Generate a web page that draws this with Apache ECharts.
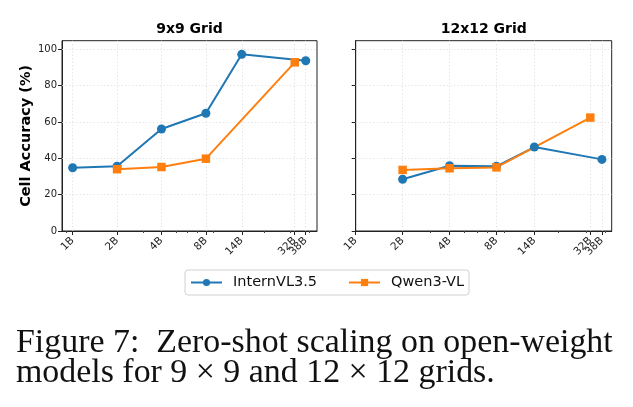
<!DOCTYPE html>
<html>
<head>
<meta charset="utf-8">
<script src="https://cdn.jsdelivr.net/npm/echarts@6/dist/echarts.min.js"></script>
<style>
  html, body { margin: 0; padding: 0; background: #fff; }
  #main { width: 633px; height: 407px; }
</style>
</head>
<body>
<div id="main"></div>
<script>
// tick positions on the log x axis and their labels
const tickSizes = [1, 2, 4, 8, 14, 32, 38];
const tickLabels = ['1B', '2B', '4B', '8B', '14B', '32B', '38B'];
const minorSizes = [0.9, 3, 5, 6, 7, 9, 20, 30, 40];
const yTicks = [0, 20, 40, 60, 80, 100];

// 9x9 grid
const intern9Sizes = [1, 2, 4, 8, 14, 38];
const intern9Acc = [34.8, 35.6, 56.1, 64.8, 97.2, 93.7];
const qwen9Sizes = [2, 4, 8, 32];
const qwen9Acc = [34.0, 35.2, 39.8, 92.8];

// 12x12 grid
const intern12Sizes = [2, 4, 8, 14, 38];
const intern12Acc = [28.5, 35.9, 35.6, 46.2, 39.4];
const qwen12Sizes = [2, 4, 8, 32];
const qwen12Acc = [33.6, 34.5, 35.0, 62.4];

const blue = '#1f77b4';
const orange = '#ff7f0e';

const pairs = (xs, ys) => xs.map((x, i) => [x, ys[i]]);
const labelFor = (v) => {
  const i = tickSizes.findIndex(s => Math.abs(s - v) < 1e-6 * s + 1e-9);
  return i >= 0 ? tickLabels[i] : '';
};

const chart = echarts.init(document.getElementById('main'));

// 32B and 38B sit too close, so their labels go on two separate axes
const oddLabels = [32];

const labelStyle = {
  rotate: 45,
  fontSize: 10.5,
  color: '#222',
  fontFamily: 'DejaVu Sans',
  margin: 8,
  interval: 0,
  hideOverlap: false,
  showMinLabel: true,
  showMaxLabel: true,
  formatter: labelFor,
};

const xMain = (gi, min, max) => ({
  type: 'log',
  logBase: 2,
  gridIndex: gi,
  position: 'bottom',
  min: min,
  max: max,
  axisLine: {show: true, lineStyle: {color: '#222', width: 1}},
  axisTick: {show: true, length: 4, customValues: tickSizes.filter(s => s >= min && s <= max), lineStyle: {color: '#222'}},
  axisLabel: Object.assign({show: true, customValues: tickSizes.filter(s => s >= min && s <= max && !oddLabels.includes(s))}, labelStyle),
  splitLine: {show: false},
  minorTick: {show: false},
});

const xMinor = (gi, min, max) => ({
  type: 'log',
  logBase: 2,
  gridIndex: gi,
  position: 'bottom',
  min: min,
  max: max,
  axisLine: {show: false},
  axisTick: {show: true, length: 2, customValues: minorSizes.filter(s => s >= min && s <= max), lineStyle: {color: '#444'}},
  axisLabel: Object.assign({show: true, customValues: oddLabels}, labelStyle),
  splitLine: {show: false},
});

const yAxisOf = (gi, showLabels) => ({
  type: 'value',
  gridIndex: gi,
  min: 0,
  max: 104.7,
  interval: 20,
  name: showLabels ? 'Cell Accuracy (%)' : '',
  nameLocation: 'middle',
  nameGap: 26,
  nameTextStyle: {fontSize: 14.5, fontWeight: 'bold', color: '#000', fontFamily: 'DejaVu Sans'},
  axisLine: {show: true, lineStyle: {color: '#222', width: 1}},
  axisTick: {show: true, length: 4, customValues: yTicks, lineStyle: {color: '#222'}},
  axisLabel: {
    show: showLabels,
    customValues: yTicks,
    fontSize: 10,
    color: '#222',
    fontFamily: 'DejaVu Sans',
    margin: 5,
  },
  splitLine: {show: false},
});

const lineSeries = (name, xi, yi, data, color, symbol, size) => ({
  name: name,
  type: 'line',
  xAxisIndex: xi,
  yAxisIndex: yi,
  data: data,
  symbol: symbol,
  symbolSize: size,
  showSymbol: true,
  lineStyle: {color: color, width: 2},
  itemStyle: {color: color, borderWidth: 0},
  emphasis: {disabled: true},
  animation: false,
  z: 3,
});

// grid lines drawn as markLine on an empty series
const gridSeries = (xi, yi, xs) => ({
  type: 'line',
  xAxisIndex: xi,
  yAxisIndex: yi,
  data: [],
  silent: true,
  animation: false,
  z: 1,
  markLine: {
    z: 1,
    symbol: 'none',
    silent: true,
    label: {show: false},
    animation: false,
    lineStyle: {color: '#e0e0e0', type: [1.5, 2], width: 0.8},
    data: xs.map(x => ({xAxis: x})).concat(yTicks.slice(1).map(y => ({yAxis: y}))),
  },
});

const leftMin = 0.847, leftMax = 45.3;
const rightMin = 1.0, rightMax = 43.9;

const titleStyle = {fontSize: 14, fontWeight: 'bold', color: '#000', fontFamily: 'DejaVu Sans'};

const option = {
  backgroundColor: '#fff',
  animation: false,
  textStyle: {fontFamily: 'DejaVu Sans'},
  title: [
    {text: '9x9 Grid', left: 189.5, top: 22, textAlign: 'center', padding: 0, textStyle: titleStyle},
    {text: '12x12 Grid', left: 483.7, top: 22, textAlign: 'center', padding: 0, textStyle: titleStyle},
  ],
  grid: [
    {left: 62, top: 40.7, width: 255, height: 190.3, show: true, borderColor: '#222', borderWidth: 1, backgroundColor: 'transparent'},
    {left: 355.7, top: 40.7, width: 256, height: 190.3, show: true, borderColor: '#222', borderWidth: 1, backgroundColor: 'transparent'},
  ],
  legend: {
    left: 185,
    top: 270,
    data: ['InternVL3.5', 'Qwen3-VL'],
    itemWidth: 31,
    itemHeight: 9,
    itemGap: 31,
    padding: [5, 5, 5, 5],
    borderColor: '#d0d0d0',
    borderWidth: 1,
    borderRadius: 3,
    textStyle: {fontSize: 14.5, color: '#111', fontFamily: 'DejaVu Sans', padding: [0, 0, 0, 6]},
  },
  xAxis: [
    xMain(0, leftMin, leftMax),
    xMain(1, rightMin, rightMax),
    xMinor(0, leftMin, leftMax),
    xMinor(1, rightMin, rightMax),
  ],
  yAxis: [
    yAxisOf(0, true),
    yAxisOf(1, false),
  ],
  series: [
    gridSeries(0, 0, tickSizes.filter(s => s > leftMin)),
    gridSeries(1, 1, tickSizes.filter(s => s > rightMin)),
    lineSeries('InternVL3.5', 0, 0, pairs(intern9Sizes, intern9Acc), blue, 'circle', 9),
    lineSeries('Qwen3-VL', 0, 0, pairs(qwen9Sizes, qwen9Acc), orange, 'rect', 8.5),
    lineSeries('InternVL3.5', 1, 1, pairs(intern12Sizes, intern12Acc), blue, 'circle', 9),
    lineSeries('Qwen3-VL', 1, 1, pairs(qwen12Sizes, qwen12Acc), orange, 'rect', 8.5),
  ],
  graphic: [
    {
      type: 'text',
      left: 16,
      top: 326,
      style: {
        text: 'Figure 7:  Zero-shot scaling on open-weight\nmodels for 9 \u00d7 9 and 12 \u00d7 12 grids.',
        font: '33.9px "Liberation Serif"',
        fill: '#111',
        lineHeight: 30,
      },
    },
  ],
};

chart.setOption(option);
</script>
</body>
</html>
